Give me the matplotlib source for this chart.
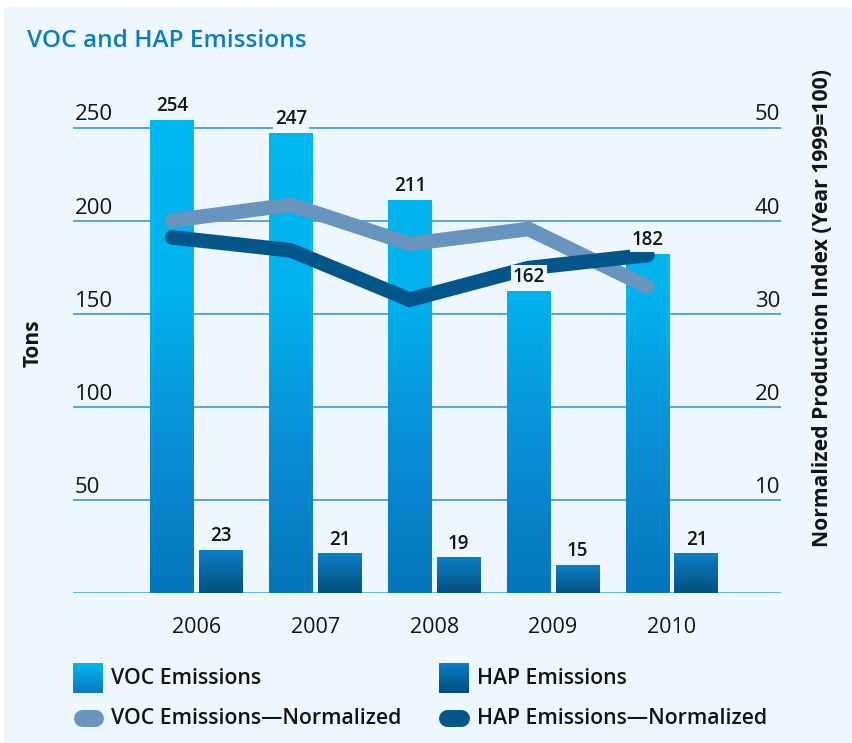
import numpy as np
import matplotlib
matplotlib.use("Agg")
import matplotlib.pyplot as plt
from matplotlib.colors import LinearSegmentedColormap, Normalize
from matplotlib.patches import Rectangle
from matplotlib.lines import Line2D

plt.rcParams["font.family"] = ["Open Sans", "DejaVu Sans"]

# data
years = ["2006", "2007", "2008", "2009", "2010"]
voc = [254, 247, 211, 162, 182]
hap = [23, 21, 19, 15, 21]
voc_norm = [40.0, 41.7, 37.5, 39.1, 32.9]
hap_norm = [38.2, 36.8, 31.5, 34.9, 36.3]
left_ticks = [50, 100, 150, 200, 250]
right_ticks = [10, 20, 30, 40, 50]

BG = "#edf7fd"
GRID = "#2f8dd2"
TXT = "#141414"
VOC_LINE = "#6894bd"
HAP_LINE = "#02568a"

voc_cmap = LinearSegmentedColormap.from_list(
    "voc", [(0.0, "#0575bd"), (0.3, "#0a8fd6"), (0.6, "#00b3ee"), (1.0, "#00b8f1")])
hap_cmap = LinearSegmentedColormap.from_list("hap", ["#03507e", "#0b80c8"])

W, H = 852, 743
fig = plt.figure(figsize=(W / 100, H / 100), dpi=100)
fig.patch.set_facecolor("white")
fig.patches.append(Rectangle((4 / W, 0), 1 - 4 / W, 1 - 7 / H, transform=fig.transFigure,
                             facecolor=BG, edgecolor="none", zorder=-10))

px_per_ton = 1.862
ymax = 270
ax = fig.add_axes([73 / W, 150 / H, 708 / W, ymax * px_per_ton / H])
ax.set_facecolor("none")
for s in ax.spines.values():
    s.set_visible(False)

x = np.arange(len(years))
xlim = (-1.039, 4.917)
bw, off = 0.37, 0.206

for t in left_ticks:
    ax.axhline(t, color=GRID, lw=1.1, zorder=1)
ax.axhline(0, color="#3d9bd9", lw=1.8, zorder=1)

vbars = ax.bar(x - off, voc, bw, color="#00a8e8", zorder=2)
hbars = ax.bar(x + off, hap, bw, color="#0a6fae", zorder=2)
for b in vbars:
    h = b.get_height()
    ax.imshow(np.linspace(0, h, 300).reshape(-1, 1), extent=[b.get_x(), b.get_x() + b.get_width(), 0, h],
              origin="lower", aspect="auto", cmap=voc_cmap, norm=Normalize(0, ymax), zorder=2.5)
for b in hbars:
    h = b.get_height()
    ax.imshow(np.linspace(0, 1, 100).reshape(-1, 1), extent=[b.get_x(), b.get_x() + b.get_width(), 0, h],
              origin="lower", aspect="auto", cmap=hap_cmap, zorder=2.5)
ax.set_xlim(*xlim)
ax.set_ylim(0, ymax)

ax.set_yticks([])
ax.set_xticks(x, years)
ax.tick_params(axis="x", length=0, pad=17, labelsize=15.5, labelcolor=TXT)

for t in left_ticks:
    ax.annotate(str(t), (0.003, t), xycoords=ax.get_yaxis_transform(), xytext=(0, 7),
                textcoords="offset pixels", ha="left", va="baseline", fontsize=16, color=TXT)

ax2 = ax.twinx()
ax2.set_ylim(0, ymax / 5)
ax2.set_yticks([])
for s in ax2.spines.values():
    s.set_visible(False)
ax2.plot(x - off, voc_norm, color=VOC_LINE, lw=10.5, solid_capstyle="round",
         solid_joinstyle="miter", zorder=3)
ax2.plot(x - off, hap_norm, color=HAP_LINE, lw=10.5, solid_capstyle="round",
         solid_joinstyle="miter", zorder=4)
ax2.set_xlim(*xlim)

for t in right_ticks:
    ax2.annotate(str(t), (1.0, t), xycoords=ax2.get_yaxis_transform(), xytext=(-1, 7),
                 textcoords="offset pixels", ha="right", va="baseline", fontsize=16, color=TXT)

lab_kw = dict(xycoords=ax.transData, xytext=(0, 9), textcoords="offset pixels", ha="center",
              va="baseline", fontsize=13.5, fontweight="semibold", color=TXT, zorder=6,
              bbox=dict(boxstyle="square,pad=0.1", fc=BG, ec="none"))
for xi, v in zip(x - off, voc):
    ax2.annotate(str(v), (xi, v), **lab_kw)
for xi, v in zip(x + off, hap):
    ax2.annotate(str(v), (xi, v), **lab_kw)

# titles and axis labels
fig.text(27 / W, 1 - 41 / H, "VOC and HAP Emissions", color="#0b7dc2", fontsize=17.6,
         fontweight="semibold", ha="left", va="center")
fig.text(33 / W, 1 - 343 / H, "Tons", rotation=90, ha="center", va="center",
         fontsize=15, fontweight="bold", color=TXT)
fig.text(822 / W, 1 - 308 / H, "Normalized Production Index (Year 1999=100)", rotation=90,
         ha="center", va="center", fontsize=15.2, fontweight="bold", color=TXT)

# legend
legend_bars = [("VOC Emissions", 73, ["#0a78c0", "#00b8f0"]),
               ("HAP Emissions", 439, ["#034c7c", "#0a7fc6"])]
for label, lx, cols in legend_bars:
    lax = fig.add_axes([lx / W, (H - 693) / H, 30 / W, 30 / H])
    lax.imshow(np.linspace(0, 1, 100).reshape(-1, 1), origin="lower", aspect="auto",
               cmap=LinearSegmentedColormap.from_list(label, cols))
    lax.axis("off")
    fig.text((lx + 38) / W, 1 - 678 / H, label, fontsize=15.3, fontweight="semibold",
             color=TXT, ha="left", va="center")

legend_lines = [("VOC Emissions\u2014Normalized", 73, VOC_LINE),
                ("HAP Emissions\u2014Normalized", 439, HAP_LINE)]
for label, lx, col in legend_lines:
    fig.add_artist(Line2D([(lx + 8.5) / W, (lx + 21.5) / W], [1 - 718 / H] * 2, lw=12.2,
                          color=col, solid_capstyle="round", transform=fig.transFigure))
    fig.text((lx + 38) / W, 1 - 718 / H, label, fontsize=15.3, fontweight="semibold",
             color=TXT, ha="left", va="center")

fig.savefig("out.png", dpi=100, facecolor=fig.get_facecolor())
